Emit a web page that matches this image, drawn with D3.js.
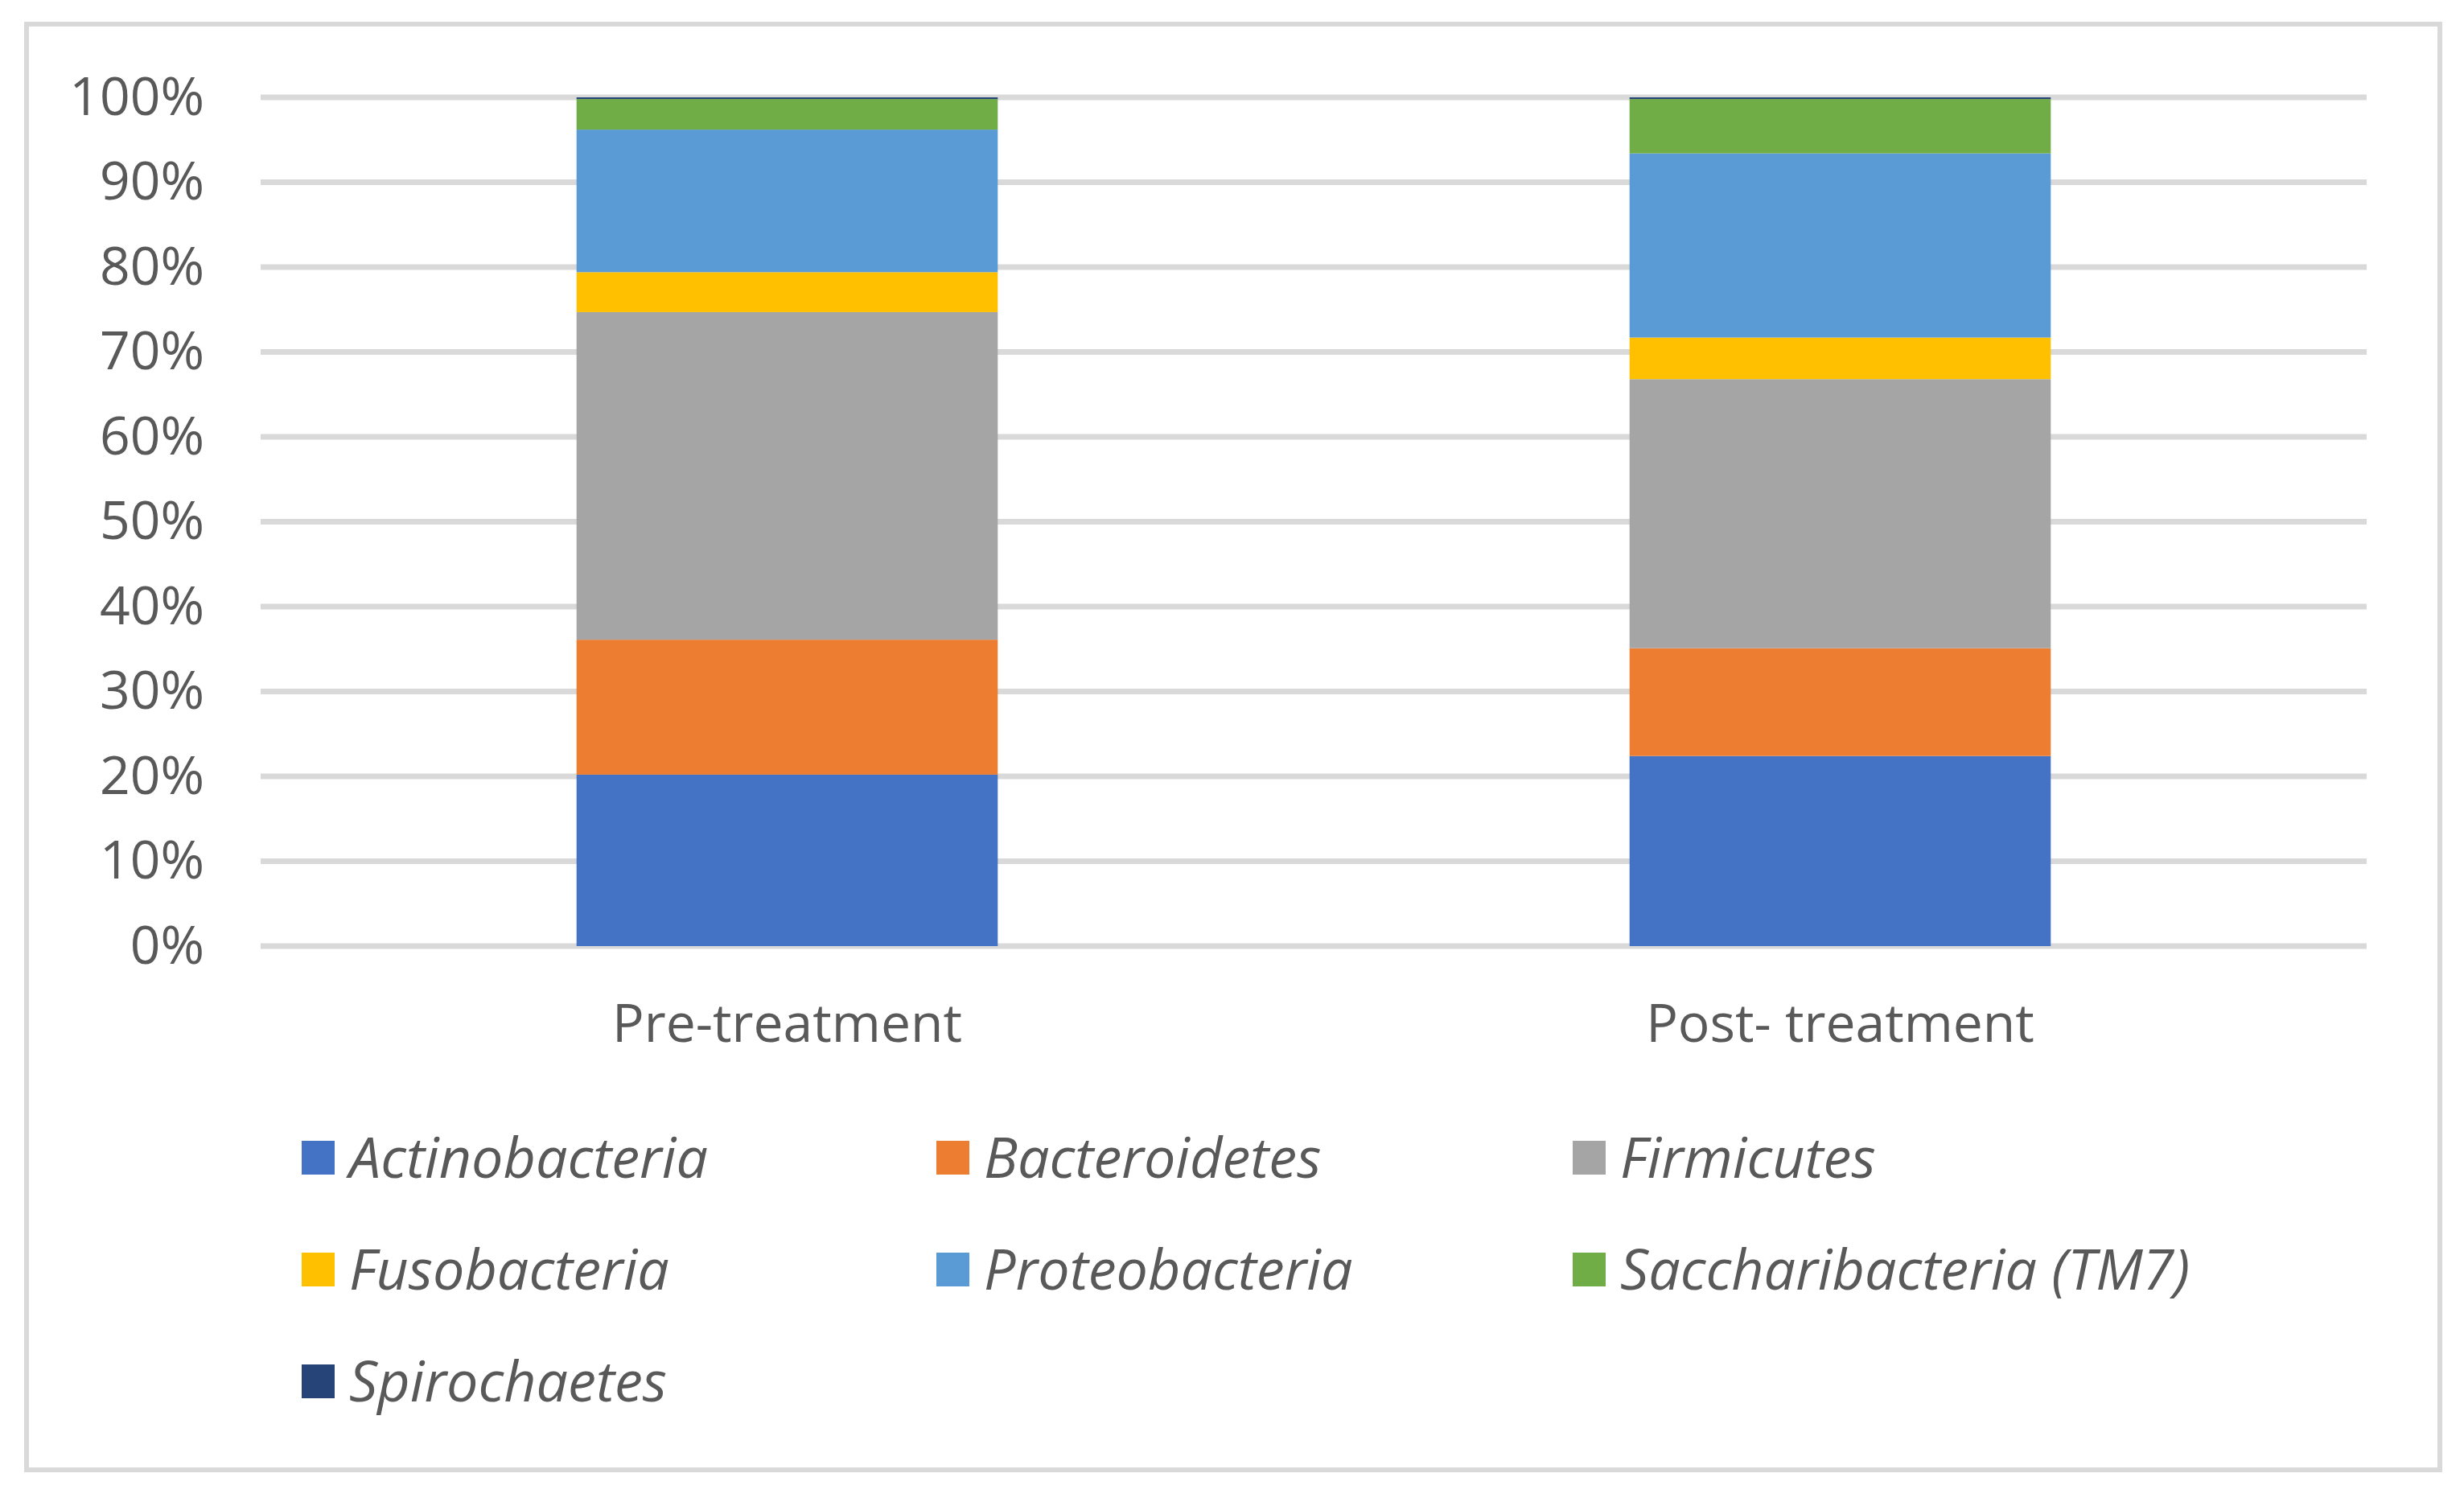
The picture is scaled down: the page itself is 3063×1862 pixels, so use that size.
<!DOCTYPE html>
<html>
<head>
<meta charset="utf-8">
<script src="https://cdn.jsdelivr.net/npm/d3@7"></script>
<style>
  body { margin: 0; background: #fff; }
  text { font-family: "Open Sans", "Noto Sans", sans-serif; fill: #595959; }
</style>
</head>
<body>
<div id="plot"></div>
<script>
// Chart data (percent of reads per phylum)
const categories = ["Pre-treatment", "Post- treatment"];
const phyla = ["Actinobacteria", "Bacteroidetes", "Firmicutes", "Fusobacteria",
               "Proteobacteria", "Saccharibacteria (TM7)", "Spirochaetes"];
const actinobacteria = [20.2, 22.4];
const bacteroidetes = [15.9, 12.7];
const firmicutes = [38.6, 31.7];
const fusobacteria = [4.7, 4.9];
const proteobacteria = [16.8, 21.7];
const saccharibacteria = [3.6, 6.4];
const spirochaetes = [0.2, 0.2];
const yTicks = [0, 10, 20, 30, 40, 50, 60, 70, 80, 90, 100];
const colors = ["#4472C4", "#ED7D31", "#A5A5A5", "#FFC000", "#5B9BD5", "#70AD47", "#264478"];

const seriesValues = [actinobacteria, bacteroidetes, firmicutes, fusobacteria,
                      proteobacteria, saccharibacteria, spirochaetes];

// Build rows for d3.stack
const rows = categories.map((c, i) => {
    const row = {category: c};
    phyla.forEach((p, j) => { row[p] = seriesValues[j][i]; });
    return row;
});

const W = 3063, H = 1862;
const plot = {left: 324, right: 2942, top: 121, bottom: 1176};

const svg = d3.select("#plot")
    .append("svg")
    .attr("width", W)
    .attr("height", H);

// Outer chart border
svg.append("rect")
    .attr("x", 33)
    .attr("y", 30)
    .attr("width", 3000)
    .attr("height", 1797)
    .attr("fill", "#fff")
    .attr("stroke", "#D9D9D9")
    .attr("stroke-width", 6);

const x = d3.scaleBand()
    .domain(categories)
    .range([plot.left, plot.right])
    .paddingInner(0.6)
    .paddingOuter(0.3);

const y = d3.scaleLinear()
    .domain([0, 100])
    .range([plot.bottom, plot.top]);

// Gridlines
svg.append("g")
    .selectAll("line")
    .data(yTicks)
    .join("line")
    .attr("x1", plot.left)
    .attr("x2", plot.right)
    .attr("y1", d => y(d))
    .attr("y2", d => y(d))
    .attr("stroke", "#D9D9D9")
    .attr("stroke-width", 7);

// Y axis labels
const yAxis = svg.append("g")
    .attr("transform", `translate(${plot.left},0)`)
    .call(d3.axisLeft(y).tickValues(yTicks).tickFormat(d => d + "%").tickSize(0).tickPadding(70));
yAxis.select(".domain").remove();
yAxis.selectAll("text")
    .style("font-size", "66px")
    .attr("fill", "#595959");

// Stacked bars
const stack = d3.stack().keys(phyla);
const layers = stack(rows);

svg.append("g")
    .selectAll("g")
    .data(layers)
    .join("g")
    .attr("fill", (d, i) => colors[i])
    .selectAll("rect")
    .data(d => d)
    .join("rect")
    .attr("x", d => x(d.data.category))
    .attr("width", x.bandwidth())
    .attr("y", d => y(d[1]))
    .attr("height", d => y(d[0]) - y(d[1]));

// X axis labels
const xAxis = svg.append("g")
    .attr("transform", `translate(0,${plot.bottom})`)
    .call(d3.axisBottom(x).tickSize(0).tickPadding(72));
xAxis.select(".domain").remove();
xAxis.selectAll("text")
    .style("font-size", "66px")
    .attr("fill", "#595959");

// Legend
const legendCols = [375, 1164, 1955];
const legendRows = [1439, 1578, 1717];

const legend = svg.append("g")
    .selectAll("g")
    .data(phyla)
    .join("g")
    .attr("transform", (d, i) => `translate(${legendCols[i % 3]},${legendRows[Math.floor(i / 3)]})`);

legend.append("rect")
    .attr("x", 0)
    .attr("y", -21)
    .attr("width", 41)
    .attr("height", 42)
    .attr("fill", (d, i) => colors[i]);

legend.append("text")
    .attr("x", 59)
    .attr("y", 0)
    .attr("dy", "0.35em")
    .style("font-size", "70px")
    .style("font-style", "italic")
    .text(d => d);
</script>
</body>
</html>
